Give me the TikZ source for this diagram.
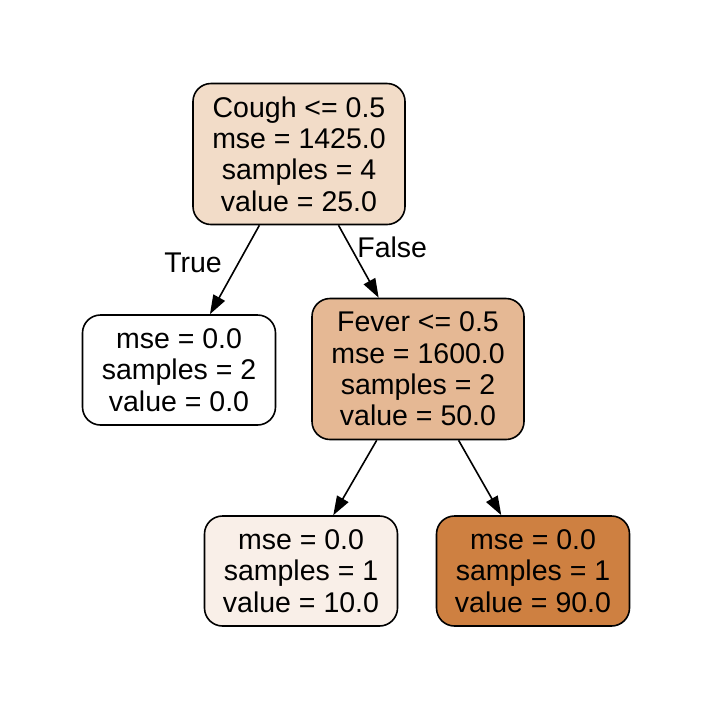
\documentclass[tikz,border=0pt]{standalone}
\usepackage{fontspec}
\setmainfont{Liberation Sans}
\usetikzlibrary{arrows.meta}
\definecolor{rootfill}{RGB}{242, 220, 200}
\definecolor{feverfill}{RGB}{229, 184, 148}
\definecolor{lowfill}{RGB}{249, 239, 232}
\definecolor{highfill}{RGB}{206, 128, 65}

\begin{document}
\begin{tikzpicture}[
    x=1pt, y=-1pt,
    split/.style={
      rectangle, rounded corners=18pt, draw=black, line width=1.6pt,
      minimum width=212pt, minimum height=141pt, inner sep=0pt, align=center,
      font=\fontsize{28.5}{31.4}\selectfont
    },
    leaf/.style={split, minimum width=193pt, minimum height=110pt},
    lbl/.style={font=\fontsize{28.5}{31.4}\selectfont, inner sep=0pt},
    arr/.style={-{Triangle[length=19pt, width=13pt]}, line width=1.6pt}
]
  \useasboundingbox (0,0) rectangle (714,710);

  \node[split, fill=rootfill]  (cough) at (299,154)
    {Cough <= 0.5\\mse = 1425.0\\samples = 4\\value = 25.0};
  \node[leaf, fill=white]      (noCough) at (179,370)
    {mse = 0.0\\samples = 2\\value = 0.0};
  \node[split, fill=feverfill] (fever) at (418,369)
    {Fever <= 0.5\\mse = 1600.0\\samples = 2\\value = 50.0};
  \node[leaf, fill=lowfill]    (noFever) at (301,571)
    {mse = 0.0\\samples = 1\\value = 10.0};
  \node[leaf, fill=highfill]   (hasFever) at (533,571)
    {mse = 0.0\\samples = 1\\value = 90.0};

  % Edges
  \draw[arr] (cough) -- node[lbl, pos=0.42, left=16pt] (trueLbl) {True} (noCough);
  \draw[arr] (cough) -- node[lbl, pos=0.3, right=6pt] (falseLbl) {False} (fever);
  \draw[arr] (fever) -- (noFever);
  \draw[arr] (fever) -- (hasFever);
\end{tikzpicture}
\end{document}
